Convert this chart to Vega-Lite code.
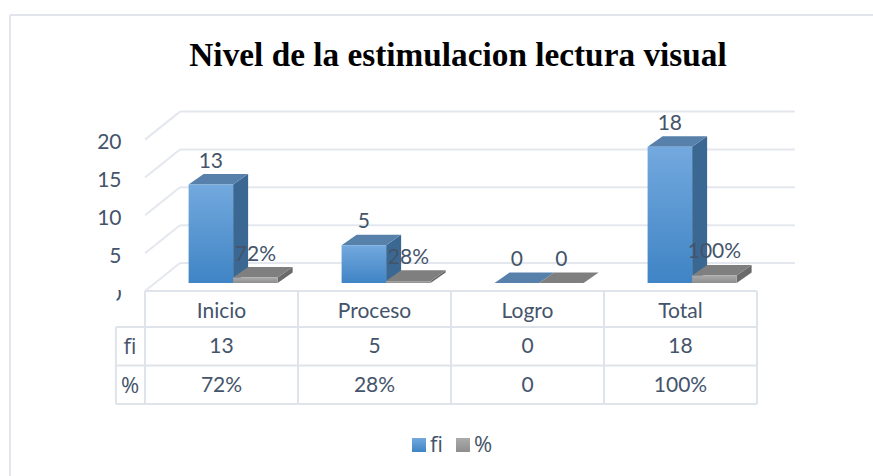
{"$schema":"https://vega.github.io/schema/vega-lite/v6.json","width":873,"height":476,"padding":0,"autosize":{"type":"none"},"background":"white","config":{"view":{"stroke":null},"axisX":{"disable":true},"style":{"cell":{"stroke":null}}},
"title":{"text":"Nivel de la estimulacion lectura visual","font":"Liberation Serif","fontWeight":"bold","fontSize":33.3,"color":"#000000","anchor":"middle","frame":"group","dx":21.5,"offset":-106,"baseline":"bottom"},
"datasets":{"niveles":[{"nivel":0},{"nivel":5},{"nivel":10},{"nivel":15},{"nivel":20}],"bordes":[{"borde":0},{"borde":1},{"borde":2},{"borde":3},{"borde":4}],"filas":[{"fila":"encabezado"},{"fila":"fi"},{"fila":"%"}],"marco":[{"parte":"marco"}]},
"data":{"values":[{"categoria":"Inicio","serie":"fi","valor":13,"etiqueta":"13"},{"categoria":"Inicio","serie":"%","valor":0.72,"etiqueta":"72%"},{"categoria":"Proceso","serie":"fi","valor":5,"etiqueta":"5"},{"categoria":"Proceso","serie":"%","valor":0.28,"etiqueta":"28%"},{"categoria":"Logro","serie":"fi","valor":0,"etiqueta":"0"},{"categoria":"Logro","serie":"%","valor":0,"etiqueta":"0"},{"categoria":"Total","serie":"fi","valor":18,"etiqueta":"18"},{"categoria":"Total","serie":"%","valor":1,"etiqueta":"100%"}]},
"transform":[{"calculate":"indexof(['Inicio','Proceso','Logro','Total'],datum.categoria)","as":"idx"},{"calculate":"datum.idx+0.285+(datum.serie==='fi'?0:0.291)","as":"a"}],
"layer":[
{"data":{"name":"niveles"},"transform":[{"calculate":"datum.nivel+2.64","as":"yAtras"}],"mark":{"type":"rule","stroke":"#e4e8ee","strokeWidth":2},"encoding":{"x":{"datum":0.229,"type":"quantitative","scale":{"domain":[-0.9477,4.7582],"range":[0,873],"nice":false,"zero":false}},"x2":{"datum":4.248},"y":{"field":"yAtras","type":"quantitative","scale":{"domain":[-25.495,37.384],"range":[476,0],"nice":false,"zero":false},"axis":{"title":null,"values":[0,5,10,15,20],"orient":"left","offset":-121,"domain":false,"ticks":false,"grid":false,"labelPadding":0,"labelOffset":11,"labelFont":"Lato","labelFontSize":21,"labelColor":"#44546a","labelOverlap":false,"labelBound":false,"labelFlush":false}}}},
{"data":{"name":"niveles"},"transform":[{"calculate":"datum.nivel+2.64","as":"yAtras"},{"calculate":"datum.nivel-1.06","as":"yFrente"}],"mark":{"type":"rule","stroke":"#e4e8ee","strokeWidth":2},"encoding":{"x":{"datum":0,"type":"quantitative"},"x2":{"datum":0.229},"y":{"field":"yFrente","type":"quantitative","axis":{"title":null}},"y2":{"field":"yAtras"}}},
{"data":{"name":"marco"},"mark":{"type":"rule","stroke":"#e2e6ec","strokeWidth":2},"encoding":{"x":{"datum":-0.882,"type":"quantitative"},"y":{"datum":35.4,"type":"quantitative","axis":{"title":null}},"y2":{"datum":-25.495}}},
{"data":{"name":"marco"},"mark":{"type":"rule","stroke":"#e2e6ec","strokeWidth":2},"encoding":{"x":{"datum":-0.882,"type":"quantitative"},"x2":{"datum":4.7582},"y":{"datum":35.4,"type":"quantitative","axis":{"title":null}}}},
{"data":{"name":"marco"},"mark":{"type":"rule","stroke":"#dfe4ea","strokeWidth":2},"encoding":{"x":{"datum":0,"type":"quantitative"},"x2":{"datum":4},"y":{"datum":-1.06,"type":"quantitative","axis":{"title":null}}}},
{"data":{"name":"marco"},"mark":{"type":"rule","stroke":"#dfe4ea","strokeWidth":2},"encoding":{"x":{"datum":-0.19,"type":"quantitative"},"y":{"datum":-5.81,"type":"quantitative","axis":{"title":null}},"y2":{"datum":-15.98}}},
{"data":{"name":"bordes"},"mark":{"type":"rule","stroke":"#dfe4ea","strokeWidth":2},"encoding":{"x":{"field":"borde","type":"quantitative"},"y":{"datum":-1.06,"type":"quantitative","axis":{"title":null}},"y2":{"datum":-15.98}}},
{"data":{"name":"filas"},"transform":[{"calculate":"datum.fila==='encabezado'?-5.81:datum.fila==='fi'?-10.9:-15.98","as":"yBorde"}],"mark":{"type":"rule","stroke":"#dfe4ea","strokeWidth":2},"encoding":{"x":{"datum":-0.19,"type":"quantitative"},"x2":{"datum":4},"y":{"field":"yBorde","type":"quantitative","axis":{"title":null}}}},
{"transform":[{"calculate":"[0,1]","as":"paso"},{"flatten":["paso"]},{"calculate":"datum.a+0.291+datum.paso*0.098","as":"xv"},{"calculate":"datum.valor+datum.paso*1.39","as":"y1"},{"calculate":"datum.paso*1.39","as":"y0"},{"calculate":"datum.categoria+datum.serie","as":"id"}],"mark":{"type":"area","line":false,"interpolate":"linear"},"encoding":{"x":{"field":"xv","type":"quantitative"},"y":{"field":"y1","type":"quantitative","axis":{"title":null}},"y2":{"field":"y0"},"detail":{"field":"id"},"fill":{"condition":{"test":"datum.serie==='fi'","value":"#3a6893"},"value":"#6a6a6a"}}},
{"transform":[{"calculate":"[0,1,2,3]","as":"paso"},{"flatten":["paso"]},{"calculate":"datum.a+[0,0.098,0.291,0.389][datum.paso]","as":"xv"},{"calculate":"datum.valor+[0,0,0,1.39][datum.paso]","as":"y0"},{"calculate":"datum.valor+[0,1.39,1.39,1.39][datum.paso]","as":"y1"},{"calculate":"datum.categoria+datum.serie","as":"id"}],"mark":{"type":"area","line":false,"interpolate":"linear"},"encoding":{"x":{"field":"xv","type":"quantitative"},"y":{"field":"y1","type":"quantitative","axis":{"title":null}},"y2":{"field":"y0"},"detail":{"field":"id"},"fill":{"condition":{"test":"datum.serie==='fi'","value":"#5780aa"},"value":"#7f7f7f"}}},
{"transform":[{"calculate":"datum.a+0.291","as":"b"},{"calculate":"0","as":"base"}],"mark":{"type":"rect","strokeWidth":0},"encoding":{"x":{"field":"a","type":"quantitative"},"x2":{"field":"b"},"y":{"field":"valor","type":"quantitative","axis":{"title":null}},"y2":{"field":"base"},"fill":{"field":"serie","type":"nominal","scale":{"domain":["fi","%"],"range":[{"expr":"{gradient:'linear',x1:0,y1:0,x2:0,y2:1,stops:[{offset:0,color:'#73a9de'},{offset:1,color:'#3f84c5'}]}"},{"expr":"{gradient:'linear',x1:0,y1:0,x2:0,y2:1,stops:[{offset:0,color:'#ababab'},{offset:1,color:'#8e8e8e'}]}"}]},"legend":{"title":null,"orient":"none","legendX":408,"legendY":434,"direction":"horizontal","symbolType":"square","symbolSize":196,"symbolStrokeWidth":0,"labelFont":"Open Sans","labelFontSize":22,"labelColor":"#44546a","labelOffset":0,"columnPadding":9}}}},
{"transform":[{"calculate":"datum.a+0.1455","as":"xt"},{"calculate":"datum.valor+2.25","as":"yt"}],"mark":{"type":"text","font":"Lato","fontSize":21,"color":"#44546a","align":"center","baseline":"alphabetic"},"encoding":{"x":{"field":"xt","type":"quantitative"},"y":{"field":"yt","type":"quantitative","axis":{"title":null}},"text":{"field":"etiqueta"}}},
{"transform":[{"filter":"datum.serie==='fi'"},{"calculate":"datum.idx+0.5","as":"xt"},{"calculate":"-3.83","as":"yt"}],"mark":{"type":"text","font":"Lato","fontSize":21,"color":"#44546a","align":"center","baseline":"middle"},"encoding":{"x":{"field":"xt","type":"quantitative"},"y":{"field":"yt","type":"quantitative","axis":{"title":null}},"text":{"field":"categoria"}}},
{"transform":[{"calculate":"datum.idx+0.5","as":"xt"},{"calculate":"datum.serie==='fi'?-8.45:-13.6","as":"yt"}],"mark":{"type":"text","font":"Lato","fontSize":21,"color":"#44546a","align":"center","baseline":"middle"},"encoding":{"x":{"field":"xt","type":"quantitative"},"y":{"field":"yt","type":"quantitative","axis":{"title":null}},"text":{"field":"etiqueta"}}},
{"data":{"name":"filas"},"transform":[{"filter":"datum.fila!=='encabezado'"},{"calculate":"datum.fila==='fi'?-8.45:-13.6","as":"yt"}],"mark":{"type":"text","font":"Open Sans","fontSize":22,"color":"#44546a","align":"center","baseline":"middle"},"encoding":{"x":{"datum":-0.098,"type":"quantitative"},"y":{"field":"yt","type":"quantitative","axis":{"title":null}},"text":{"field":"fila"}}},
{"data":{"name":"marco"},"mark":{"type":"rect","fill":"white"},"encoding":{"x":{"datum":-0.294,"type":"quantitative"},"x2":{"datum":-0.186},"y":{"datum":0.396,"type":"quantitative","axis":{"title":null}},"y2":{"datum":-3.57}}},
{"data":{"name":"marco"},"mark":{"type":"rect","fill":"white"},"encoding":{"x":{"datum":-0.294,"type":"quantitative"},"x2":{"datum":-0.124},"y":{"datum":0.396,"type":"quantitative","axis":{"title":null}},"y2":{"datum":-0.925}}}
]}
